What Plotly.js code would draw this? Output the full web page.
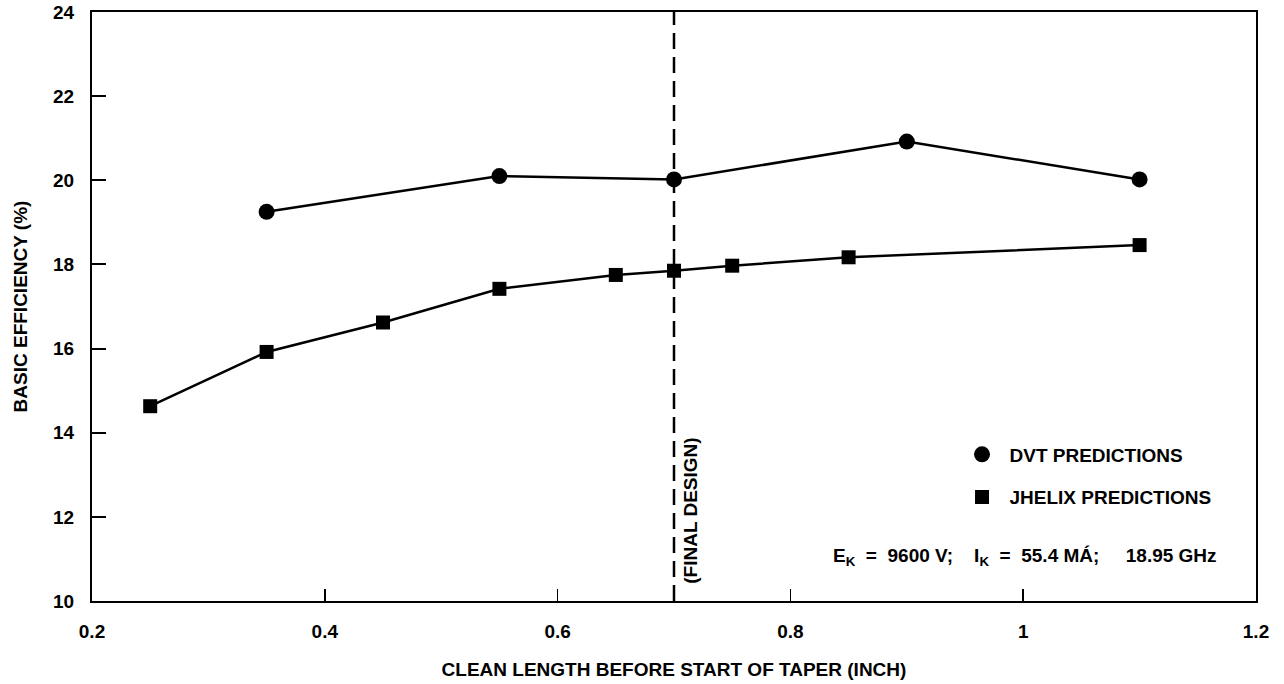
<!DOCTYPE html>
<html>
<head>
<meta charset="utf-8">
<script src="https://cdn.plot.ly/plotly-3.0.1.min.js"></script>
<style>
  html, body { margin: 0; padding: 0; background: #fff; }
  #chart { width: 1284px; height: 684px; }
</style>
</head>
<body>
<div id="chart"></div>
<script>
// Clean length before start of taper (inch) vs basic efficiency (%)
const dvtLength = [0.35, 0.55, 0.70, 0.90, 1.10];
const dvtEfficiency = [19.25, 20.1, 20.02, 20.92, 20.02];

const jhelixLength = [0.25, 0.35, 0.45, 0.55, 0.65, 0.70, 0.75, 0.85, 1.10];
const jhelixEfficiency = [14.63, 15.92, 16.62, 17.42, 17.75, 17.85, 17.97, 18.17, 18.46];

const finalDesign = 0.70;
const xTicks = [0.2, 0.4, 0.6, 0.8, 1, 1.2];
const yTicks = [10, 12, 14, 16, 18, 20, 22, 24];

const FONT = 'Liberation Sans, Arial, Helvetica, sans-serif';
const INK = '#000';
const SIZE = 19;

const traces = [
  {
    x: dvtLength, y: dvtEfficiency, mode: 'lines', showlegend: false,
    line: { color: INK, width: 2.5 }, hoverinfo: 'skip'
  },
  {
    x: jhelixLength, y: jhelixEfficiency, mode: 'lines', showlegend: false,
    line: { color: INK, width: 2.5 }, hoverinfo: 'skip'
  },
  {
    x: dvtLength, y: dvtEfficiency, mode: 'markers', name: 'DVT PREDICTIONS',
    legendgroup: 'dvt',
    marker: { symbol: 'circle', size: 16, color: INK }
  },
  {
    x: jhelixLength, y: jhelixEfficiency, mode: 'markers', name: 'JHELIX PREDICTIONS',
    legendgroup: 'jhelix',
    marker: { symbol: 'square', size: 14, color: INK }
  }
];

const layout = {
  width: 1284, height: 684,
  margin: { l: 92, r: 28, t: 12, b: 83 },
  paper_bgcolor: '#fff', plot_bgcolor: '#fff',
  font: { family: FONT, color: INK, size: SIZE, weight: 'bold' },
  showlegend: true,
  legend: {
    x: 0.741, y: 0.281, xanchor: 'left', yanchor: 'top',
    bgcolor: 'rgba(0,0,0,0)', traceorder: 'grouped', tracegroupgap: 15,
    font: { family: FONT, size: SIZE, color: INK, weight: 'bold' },
    itemwidth: 45
  },
  xaxis: {
    range: [0.2, 1.2], tickvals: xTicks, ticktext: xTicks.map(String),
    ticks: 'inside', ticklen: 12, tickwidth: 1.5, tickcolor: INK,
    showline: true, linewidth: 2, linecolor: INK, mirror: true,
    showgrid: false, zeroline: false, ticklabelstandoff: 12,
    tickfont: { family: FONT, size: SIZE, weight: 'bold' },
    title: { text: 'CLEAN LENGTH BEFORE START OF TAPER (INCH)', standoff: 22,
             font: { family: FONT, size: SIZE, weight: 'bold' } }
  },
  yaxis: {
    range: [10, 24], tickvals: yTicks, ticktext: yTicks.map(String),
    ticks: 'inside', ticklen: 14, tickwidth: 2, tickcolor: INK,
    showline: true, linewidth: 2, linecolor: INK, mirror: true,
    showgrid: false, zeroline: false, ticklabelstandoff: 12,
    tickfont: { family: FONT, size: SIZE, weight: 'bold' },
    title: { text: 'BASIC EFFICIENCY (%)', standoff: 20,
             font: { family: FONT, size: SIZE, weight: 'bold' } }
  },
  shapes: [
    {
      type: 'line', xref: 'x', yref: 'paper',
      x0: finalDesign, x1: finalDesign, y0: 0, y1: 1,
      line: { color: INK, width: 2.5, dash: '16px,8px' }
    }
  ],
  annotations: [
    {
      xref: 'x', yref: 'paper', x: finalDesign, y: 0.025,
      xanchor: 'left', yanchor: 'bottom', xshift: 4,
      text: '(FINAL DESIGN)', textangle: -90, showarrow: false,
      font: { family: FONT, size: SIZE, weight: 'bold', color: INK }
    },
    {
      xref: 'paper', yref: 'paper', x: 0.968, y: 0.075,
      xanchor: 'right', yanchor: 'middle',
      text: 'E<sub>K</sub>  =  9600 V;    I<sub>K</sub>  =  55.4 MÁ;     18.95 GHz',
      showarrow: false,
      font: { family: FONT, size: SIZE, weight: 'bold', color: INK }
    }
  ]
};

Plotly.newPlot('chart', traces, layout, { displayModeBar: false, staticPlot: true });
</script>
</body>
</html>
